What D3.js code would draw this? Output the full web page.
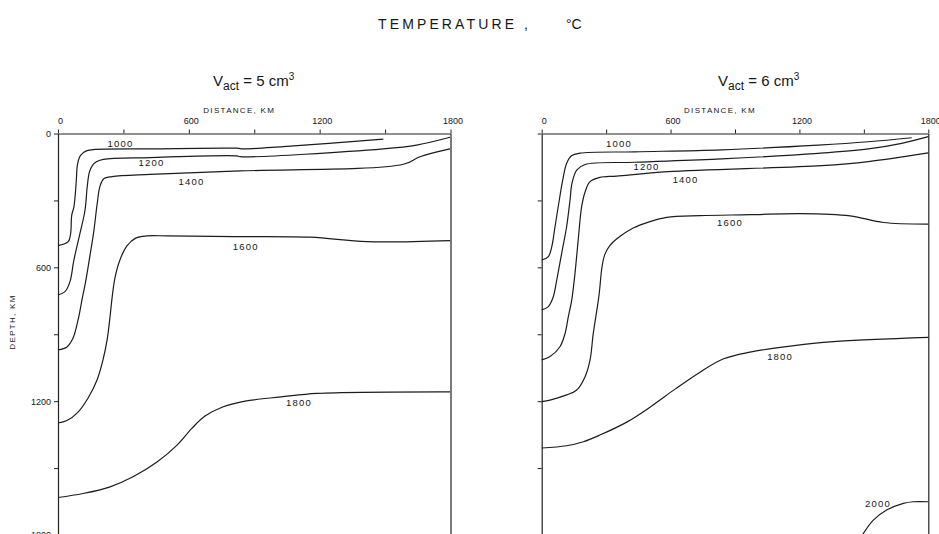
<!DOCTYPE html>
<html>
<head>
<meta charset="utf-8">
<script src="https://cdn.jsdelivr.net/npm/d3@7"></script>
<style>
body{margin:0;background:#fff}
text{font-family:"Liberation Sans",Arial,sans-serif;fill:#161616}
</style>
</head>
<body>
<svg id="chart" width="939" height="534"></svg>
<script>
// axis values (km)
const distTicks  = [0,300,600,900,1200,1500,1800]
const depthTicks = [0,300,600,900,1200,1500,1800]
const labeled    = [0,600,1200,1800]

// isotherms: [distance km, depth km]
const iso5 = [
  {t:1000, lab:[287,47], pts:[[0,503],[47,485],[58,448],[63,366],[73,329],[83,226],[89,141],[99,105],[115,87],[133,77],[162,72],[422,69],[820,66],[850,69],[1033,59],[1492,25]]},
  {t:1200, lab:[429,128], pts:[[0,724],[32,709],[55,664],[73,567],[101,447],[124,343],[134,238],[144,173],[156,146],[174,128],[208,116],[422,108],[820,100],[835,104],[1492,69],[1645,52],[1798,17]]},
  {t:1400, lab:[612,216], pts:[[0,970],[41,957],[69,917],[92,836],[110,746],[128,657],[147,545],[165,433],[179,320],[193,235],[211,202],[248,193],[422,183],[835,168],[1584,138],[1660,104],[1798,69]]},
  {t:1600, lab:[861,508], pts:[[0,1298],[41,1287],[92,1249],[138,1186],[179,1105],[206,1016],[225,926],[238,827],[248,737],[261,648],[284,567],[316,504],[358,468],[408,459],[500,459],[803,462],[1156,465],[1417,485],[1798,480]]},
  {t:1800, lab:[1105,1208], pts:[[0,1632],[115,1614],[239,1584],[344,1539],[454,1473],[546,1397],[615,1321],[674,1267],[752,1227],[858,1200],[1032,1180],[1188,1165],[1798,1158]]}
]

const iso6 = [
  {t:1000, lab:[360,47], pts:[[0,567],[31,552],[47,507],[62,418],[82,298],[98,208],[116,134],[140,99],[178,88],[434,82],[838,73],[1288,52],[1521,37],[1723,19]]},
  {t:1200, lab:[488,150], pts:[[0,791],[31,776],[54,732],[70,657],[93,537],[116,418],[132,298],[141,223],[163,164],[202,139],[434,129],[838,114],[1288,89],[1521,69],[1676,44],[1800,14]]},
  {t:1400, lab:[670,208], pts:[[0,1015],[39,1000],[85,956],[109,896],[124,821],[140,746],[155,627],[170,477],[186,328],[202,262],[225,216],[271,197],[349,191],[589,171],[1304,144],[1521,126],[1800,87]]},
  {t:1600, lab:[877,401], pts:[[0,1202],[39,1195],[116,1172],[163,1150],[202,1090],[225,1016],[240,897],[264,746],[271,688],[280,603],[294,542],[318,502],[351,471],[426,424],[504,395],[582,376],[737,368],[970,364],[1203,359],[1436,369],[1591,399],[1800,406]]},
  {t:1800, lab:[1110,998], pts:[[0,1410],[116,1400],[194,1382],[271,1352],[396,1294],[504,1227],[621,1146],[737,1070],[844,1011],[970,980],[1157,953],[1358,933],[1800,914]]},
  {t:2000, lab:[1566,1661], pts:[[1493,1800],[1544,1733],[1606,1688],[1684,1658],[1730,1651],[1799,1651]]}
]

const svg = d3.select("#chart")

svg.append("text").attr("x",378).attr("y",29)
  .attr("font-size",14).attr("textLength",150).attr("lengthAdjust","spacing")
  .text("TEMPERATURE ,")
svg.append("text").attr("x",566).attr("y",29).attr("font-size",14).text("°C")

function subtitle(x0, v) {
  let t = svg.append("text").attr("x",x0).attr("y",86).attr("font-size",15)
  t.append("tspan").text("V")
  t.append("tspan").attr("dy",4).attr("font-size",12).text("act")
  t.append("tspan").attr("dy",-4).text(" = " + v + " cm")
  t.append("tspan").attr("dy",-6).attr("font-size",10).text("3")
}
subtitle(213,"5")
subtitle(718,"6")

function panel(x0, x1, data, showDepth) {
  let x = d3.scaleLinear().domain([0,1800]).range([x0,x1])
  let y = d3.scaleLinear().domain([0,1800]).range([133.5,535])
  let g = svg.append("g")

  let top = g.append("g").attr("transform","translate(0,"+y(0)+")")
    .call(d3.axisTop(x).tickValues(distTicks).tickSize(4).tickSizeOuter(0)
      .tickFormat(d => labeled.includes(d) ? d : ""))
  top.selectAll("text").attr("font-size",9).attr("dx",2).attr("dy",-3)
    .style("font-family","Liberation Sans, Arial, sans-serif")

  let lf = g.append("g").attr("transform","translate("+x(0)+",0)")
    .call(d3.axisLeft(y).tickValues(depthTicks).tickSize(4).tickSizeOuter(0)
      .tickFormat(d => showDepth && labeled.includes(d) ? d : ""))
  lf.selectAll("text").attr("font-size",9)
    .style("font-family","Liberation Sans, Arial, sans-serif")

  g.append("g").attr("transform","translate("+x(1800)+",0)")
    .call(d3.axisRight(y).ticks(0).tickSize(0).tickSizeOuter(0))
  g.append("g").attr("transform","translate(0,"+y(1800)+")")
    .call(d3.axisBottom(x).ticks(0).tickSize(0).tickSizeOuter(0))

  g.selectAll(".domain").attr("stroke","#222").attr("stroke-width",1.2)
  g.selectAll(".tick line").attr("stroke","#222")

  let cx = (x0 + x1) / 2 - 15
  g.append("text").attr("x",cx).attr("y",113).attr("text-anchor","middle")
    .attr("font-size",8).attr("letter-spacing",1.3).text("DISTANCE,  KM")

  let line = d3.line()
    .x(d => x(d[0]))
    .y(d => y(d[1]))
    .curve(d3.curveCatmullRom.alpha(0.5))

  data.forEach(c => {
    g.append("path").datum(c.pts)
      .attr("fill","none")
      .attr("stroke","#1c1c1c")
      .attr("stroke-width",1.2)
      .attr("stroke-linejoin","round")
      .attr("d", line)
    g.append("text")
      .attr("x", x(c.lab[0])).attr("y", y(c.lab[1]) + 3.5)
      .attr("text-anchor","middle")
      .attr("font-size",9.5).attr("letter-spacing",1.2)
      .text(c.t)
  })
}

panel(58, 450.5, iso5, true)
panel(541.7, 928.3, iso6, false)

svg.append("text")
  .attr("transform","translate(15,322) rotate(-90)")
  .attr("text-anchor","middle").attr("font-size",8).attr("letter-spacing",1.3)
  .text("DEPTH,  KM")
</script>
</body>
</html>
